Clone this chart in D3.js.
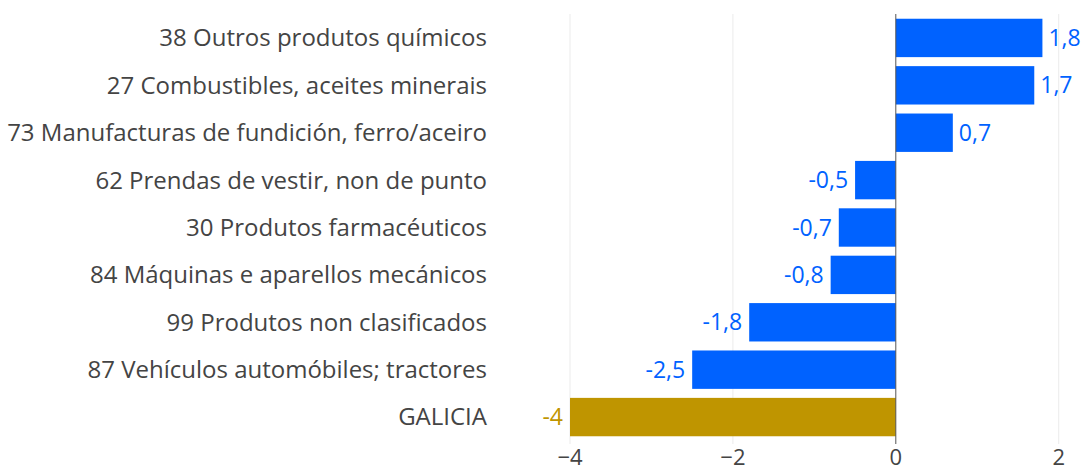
<!DOCTYPE html>
<html>
<head>
<meta charset="utf-8">
<script src="https://cdn.jsdelivr.net/npm/d3@7"></script>
<style>
  body { margin: 0; background: #fff; }
  text { font-family: "Open Sans", sans-serif; }
</style>
</head>
<body>
<div id="chart"></div>
<script>
var categories = [
    "38 Outros produtos químicos",
    "27 Combustibles, aceites minerais",
    "73 Manufacturas de fundición, ferro/aceiro",
    "62 Prendas de vestir, non de punto",
    "30 Produtos farmacéuticos",
    "84 Máquinas e aparellos mecánicos",
    "99 Produtos non clasificados",
    "87 Vehículos automóbiles; tractores",
    "GALICIA"
];
var values = [1.8, 1.7, 0.7, -0.5, -0.7, -0.8, -1.8, -2.5, -4];
var tickValues = [-4, -2, 0, 2];

function init() {
    var w = 1084;
    var h = 469;
    var left = 570, right = 1075, top = 14, bottom = 441;

    var xScale = d3.scaleLinear()
        .domain([-4, 2.2])
        .range([left, right]);

    var yScale = d3.scaleBand()
        .domain(categories)
        .range([top, bottom])
        .paddingInner(0.19)
        .paddingOuter(0.1);

    var svg = d3.select("#chart")
        .append("svg")
        .attr("width", w)
        .attr("height", h);

    // gridlines
    svg.append("g")
        .selectAll("line")
        .data(tickValues.filter(function(d) { return d !== 0; }))
        .enter().append("line")
        .attr("x1", function(d) { return xScale(d); })
        .attr("x2", function(d) { return xScale(d); })
        .attr("y1", top)
        .attr("y2", bottom + 3)
        .attr("stroke", "#ebebeb")
        .attr("stroke-width", 1);

    // bars
    svg.append("g")
        .selectAll("rect")
        .data(values)
        .enter().append("rect")
        .attr("x", function(d) { return xScale(Math.min(0, d)); })
        .attr("y", function(d, i) { return yScale(categories[i]); })
        .attr("width", function(d) { return Math.abs(xScale(d) - xScale(0)); })
        .attr("height", yScale.bandwidth())
        .attr("fill", function(d, i) { return categories[i] === "GALICIA" ? "#bf9500" : "#0062ff"; });

    // zero line
    svg.append("line")
        .attr("x1", xScale(0))
        .attr("x2", xScale(0))
        .attr("y1", top)
        .attr("y2", bottom + 3)
        .attr("stroke", "#555")
        .attr("stroke-width", 1);

    // value labels
    var fmt = function(d) { return String(d).replace(".", ","); };
    svg.append("g")
        .selectAll("text")
        .data(values)
        .enter().append("text")
        .attr("x", function(d) { return d >= 0 ? xScale(d) + 6 : xScale(d) - 7; })
        .attr("y", function(d, i) { return yScale(categories[i]) + yScale.bandwidth() / 2; })
        .attr("dy", "0.35em")
        .attr("text-anchor", function(d) { return d >= 0 ? "start" : "end"; })
        .attr("font-size", "23px")
        .attr("fill", function(d, i) { return categories[i] === "GALICIA" ? "#bf9500" : "#0062ff"; })
        .text(fmt);

    // category labels
    svg.append("g")
        .selectAll("text")
        .data(categories)
        .enter().append("text")
        .attr("x", 487)
        .attr("y", function(d) { return yScale(d) + yScale.bandwidth() / 2; })
        .attr("dy", "0.35em")
        .attr("text-anchor", "end")
        .attr("font-size", "24px")
        .attr("fill", "#444")
        .text(function(d) { return d; });

    // x axis tick labels
    svg.append("g")
        .selectAll("text")
        .data(tickValues)
        .enter().append("text")
        .attr("x", function(d) { return xScale(d); })
        .attr("y", 457)
        .attr("dy", "0.35em")
        .attr("text-anchor", "middle")
        .attr("font-size", "22px")
        .attr("fill", "#444")
        .text(function(d) { return d3.format("")(d); });
}

window.onload = init;
</script>
</body>
</html>
